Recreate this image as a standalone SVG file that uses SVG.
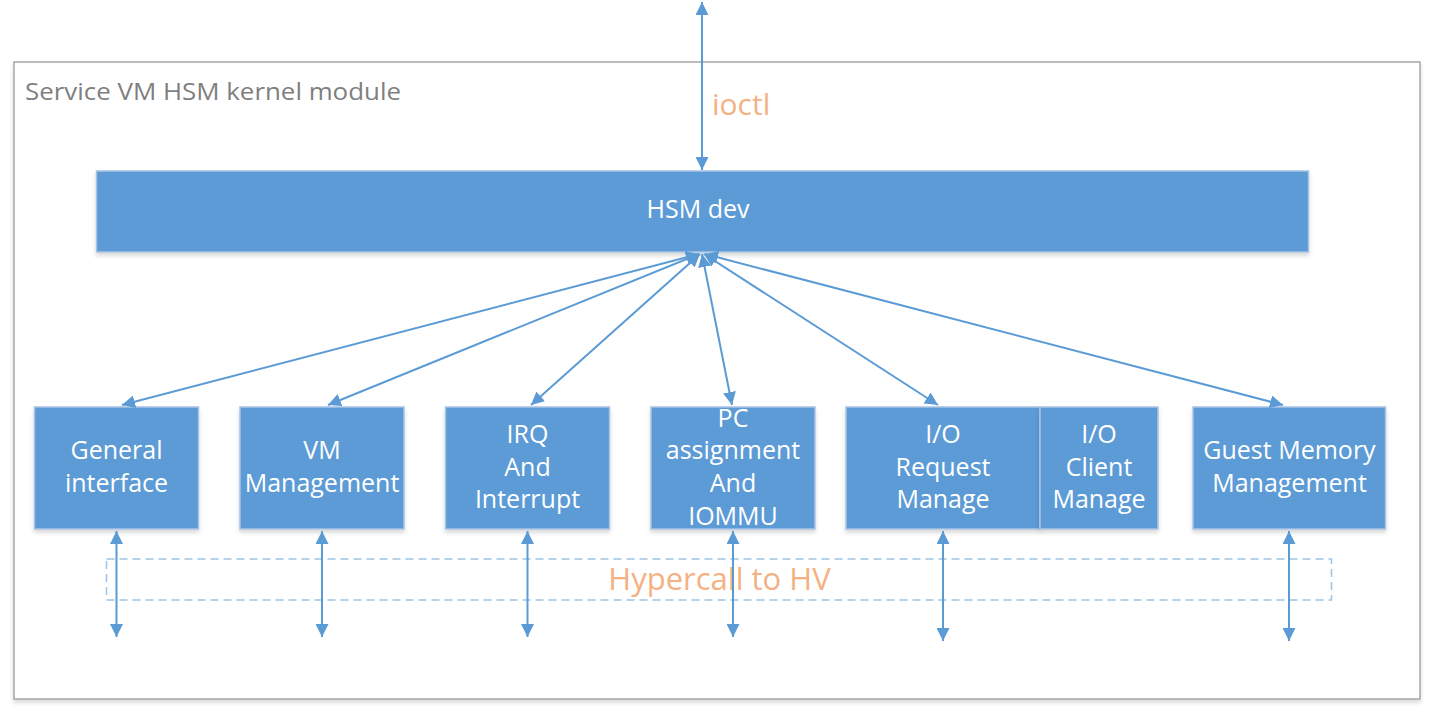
<svg xmlns="http://www.w3.org/2000/svg" width="1431" height="711" viewBox="0 0 1431 711">
<style>
.box{fill:#5B9BD5;stroke:#A9C3E3;stroke-width:1.5;filter:url(#sh)}
.lbl{font-family:"Open Sans","Liberation Sans",sans-serif;font-size:25px;fill:#FFFFFF;text-anchor:middle}
.con{stroke:#5B9BD5;stroke-width:2;fill:none;marker-end:url(#ah);marker-start:url(#ah)}
.orange{font-family:"Open Sans","Liberation Sans",sans-serif;fill:#F4B183}
</style>
<defs>
<filter id="sh" x="-10%" y="-10%" width="120%" height="130%">
<feDropShadow dx="0" dy="3" stdDeviation="2" flood-color="#000" flood-opacity="0.15"/>
</filter>
<marker id="ah" viewBox="0 0 10 10" refX="10" refY="5" markerUnits="userSpaceOnUse" markerWidth="13" markerHeight="13" orient="auto-start-reverse">
<path d="M0,0 L10,5 L0,10 z" fill="#5B9BD5"/>
</marker>
</defs>
<rect width="1431" height="711" fill="#FFFFFF"/>
<g id="module">
<rect x="14" y="62" width="1406" height="637" fill="#FFFFFF" stroke="#A6A6A6" stroke-width="1.5" filter="url(#sh)"/>
<text x="25" y="100" font-family="'Open Sans','Liberation Sans',sans-serif" font-size="24" fill="#7F7F7F" textLength="376" lengthAdjust="spacingAndGlyphs">Service VM HSM kernel module</text>
</g>
<g id="hypercall">
<rect x="106.5" y="559" width="1225" height="41" fill="none" stroke="#9DC3E6" stroke-width="1.5" stroke-dasharray="8,5"/>
<text class="orange" x="719.5" y="590" font-size="31" text-anchor="middle">Hypercall to HV</text>
</g>
<g id="hsmdev">
<rect class="box" x="96.5" y="171" width="1212" height="81"/>
<text class="lbl" x="698" y="218" font-size="26">HSM dev</text>
</g>
<g id="general">
<rect class="box" x="34.5" y="407" width="164" height="122"/>
<text class="lbl" x="116.5" y="459">General</text>
<text class="lbl" x="116.5" y="492">interface</text>
</g>
<g id="vmmgmt">
<rect class="box" x="240" y="407" width="164" height="122"/>
<text class="lbl" x="322" y="459">VM</text>
<text class="lbl" x="322" y="492">Management</text>
</g>
<g id="irq">
<rect class="box" x="445.5" y="407" width="164" height="122"/>
<text class="lbl" x="527.5" y="443">IRQ</text>
<text class="lbl" x="527.5" y="476">And</text>
<text class="lbl" x="527.5" y="508">Interrupt</text>
</g>
<g id="pc">
<rect class="box" x="651" y="407" width="164" height="122"/>
<text class="lbl" x="733" y="427">PC</text>
<text class="lbl" x="733" y="459">assignment</text>
<text class="lbl" x="733" y="492">And</text>
<text class="lbl" x="733" y="525">IOMMU</text>
</g>
<g id="ioreq">
<rect class="box" x="846" y="407" width="194" height="122"/>
<text class="lbl" x="943" y="443">I/O</text>
<text class="lbl" x="943" y="476">Request</text>
<text class="lbl" x="943" y="508">Manage</text>
</g>
<g id="ioclient">
<rect class="box" x="1040" y="407" width="118" height="122"/>
<text class="lbl" x="1099" y="443">I/O</text>
<text class="lbl" x="1099" y="476">Client</text>
<text class="lbl" x="1099" y="508">Manage</text>
</g>
<g id="guestmem">
<rect class="box" x="1193" y="407" width="192.5" height="122"/>
<text class="lbl" x="1289.5" y="459">Guest Memory</text>
<text class="lbl" x="1289.5" y="492">Management</text>
</g>
<g id="connectors">
<line class="con" x1="702" y1="2" x2="702" y2="170"/>
<text class="orange" x="712" y="115" font-size="30">ioctl</text>
<line class="con" x1="699" y1="254" x2="122" y2="405"/>
<line class="con" x1="699" y1="254" x2="328" y2="405"/>
<line class="con" x1="700" y1="254" x2="531" y2="405"/>
<line class="con" x1="702" y1="254" x2="732" y2="405"/>
<line class="con" x1="704" y1="254" x2="938" y2="405"/>
<line class="con" x1="705" y1="254" x2="1283" y2="405"/>
<line class="con" x1="116.5" y1="531" x2="116.5" y2="637"/>
<line class="con" x1="322" y1="531" x2="322" y2="637"/>
<line class="con" x1="527.5" y1="531" x2="527.5" y2="637"/>
<line class="con" x1="733" y1="531" x2="733" y2="637"/>
<line class="con" x1="943" y1="531" x2="943" y2="641"/>
<line class="con" x1="1289" y1="531" x2="1289" y2="641"/>
</g>
</svg>
